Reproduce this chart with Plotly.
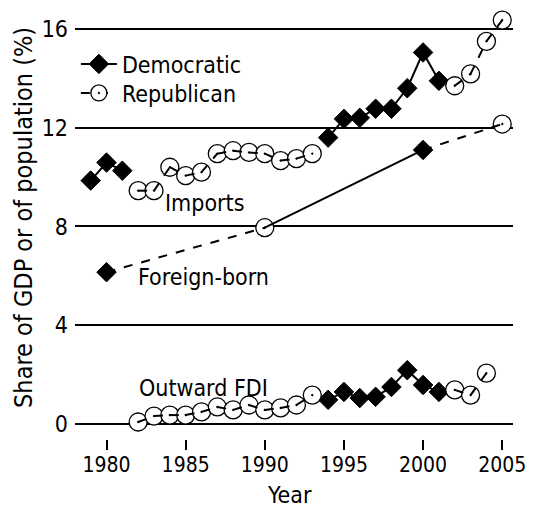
import plotly.graph_objects as go

# ---------------- data ----------------
imports_years = list(range(1979, 2006))
imports_vals = [9.86, 10.59, 10.26, 9.45, 9.45, 10.4, 10.06, 10.2, 10.95, 11.07,
                11.0, 10.95, 10.67, 10.75, 10.95, 11.6, 12.36, 12.4, 12.77, 12.77,
                13.6, 15.05, 13.9, 13.7, 14.18, 15.5, 16.36]

fdi_years = list(range(1982, 2005))
fdi_vals = [0.08, 0.32, 0.36, 0.36, 0.49, 0.69, 0.57, 0.77, 0.57, 0.65,
            0.77, 1.17, 0.98, 1.3, 1.05, 1.1, 1.5, 2.18, 1.58, 1.3,
            1.38, 1.17, 2.06]

foreign_years = [1980, 1990, 2000, 2005]
foreign_vals = [6.15, 7.95, 11.1, 12.15]

# party in charge (D) by year ranges; all other years are Republican
dem_ranges = [(1979, 1981), (1994, 2001)]

x_ticks = [1980, 1985, 1990, 1995, 2000, 2005]
y_ticks = [0, 4, 8, 12, 16]

series_labels = ["Imports", "Foreign-born", "Outward FDI"]
legend_names = ["Democratic", "Republican"]


def party(year):
    return "D" if any(a <= year <= b for a, b in dem_ranges) else "R"


FONT = "Liberation Sans Narrow, Arial Narrow, DejaVu Sans Condensed, sans-serif"
FS = 23
LINE_W = 2
STYLE = {
    "D": dict(marker=dict(symbol="diamond", size=15, color="black",
                          line=dict(color="black", width=1)),
              line=dict(color="black", width=LINE_W, dash="solid")),
    "R": dict(marker=dict(symbol="circle-dot", size=18, color="white",
                          line=dict(color="black", width=1.3)),
              line=dict(color="black", width=LINE_W, dash="dash")),
}

fig = go.Figure()

all_series = [(imports_years, imports_vals), (foreign_years, foreign_vals),
              (fdi_years, fdi_vals)]

# markers first
for yrs, vals in all_series:
    for p in ("D", "R"):
        xs = [x for x in yrs if party(x) == p]
        ys = [v for x, v in zip(yrs, vals) if party(x) == p]
        fig.add_trace(go.Scatter(x=xs, y=ys, mode="markers",
                                 marker=STYLE[p]["marker"], showlegend=False,
                                 cliponaxis=False, hoverinfo="skip"))

# line segments on top
for yrs, vals in all_series:
    for i in range(1, len(yrs)):
        p0, p1 = party(yrs[i - 1]), party(yrs[i])
        if p0 != p1 and yrs[i] - yrs[i - 1] == 1:
            continue
        fig.add_trace(go.Scatter(x=[yrs[i - 1], yrs[i]], y=[vals[i - 1], vals[i]],
                                 mode="lines", line=STYLE[p1]["line"],
                                 showlegend=False, cliponaxis=False,
                                 hoverinfo="skip"))

# legend entries (each in its own legend box for exact placement)
for name, p, lg in zip(legend_names, ("D", "R"), ("legend", "legend2")):
    fig.add_trace(go.Scatter(x=[None], y=[None], mode="lines+markers",
                             name=name, marker=STYLE[p]["marker"],
                             line=STYLE[p]["line"], legend=lg))

# series labels
label_pos = [(1986.2, 8.95), (1986.15, 5.95), (1986.1, 1.46)]
for txt, (lx, ly) in zip(series_labels, label_pos):
    fig.add_annotation(x=lx, y=ly, text=txt, showarrow=False,
                       font=dict(family=FONT, size=FS, color="black"),
                       xanchor="center", yanchor="middle")

fig.add_annotation(xref="paper", yref="paper", x=-0.119, y=0.515,
                   text="Share of GDP or of population (%)", textangle=-90,
                   showarrow=False, font=dict(family=FONT, size=25, color="black"),
                   xanchor="center", yanchor="middle")
fig.add_annotation(xref="paper", yref="paper", x=0.49, y=-0.13, text="Year",
                   showarrow=False, font=dict(family=FONT, size=FS, color="black"),
                   xanchor="center", yanchor="middle")

legend_common = dict(xanchor="left", yanchor="top", bgcolor="rgba(0,0,0,0)",
                     font=dict(family=FONT, size=FS, color="black"),
                     itemwidth=36)

fig.update_layout(
    width=534, height=512,
    margin=dict(l=75, r=14, t=8, b=73),
    paper_bgcolor="white", plot_bgcolor="white",
    font=dict(family=FONT, size=FS, color="black"),
    showlegend=True,
    legend=dict(x=0.002, y=0.9200, **legend_common),
    legend2=dict(x=0.002, y=0.8527, **legend_common),
    xaxis=dict(range=[1978.01, 2005.68], tickvals=x_ticks, showgrid=False,
               zeroline=False, showline=False, ticks="outside", ticklen=10,
               tickwidth=1.5, tickcolor="black", tickfont=dict(size=21),
               ticklabelstandoff=-3, ticklabeloverflow="allow"),
    yaxis=dict(range=[-0.608, 16.85], tickvals=y_ticks, showgrid=True,
               gridcolor="black", gridwidth=1.5, zeroline=False, showline=False,
               ticks="", ticklabelstandoff=6, tickfont=dict(size=FS)),
)

fig.write_html(
    "out.html",
    config={"displayModeBar": False},
    post_script="document.body.style.margin='0px';"
                "document.body.style.overflow='hidden';",
)
